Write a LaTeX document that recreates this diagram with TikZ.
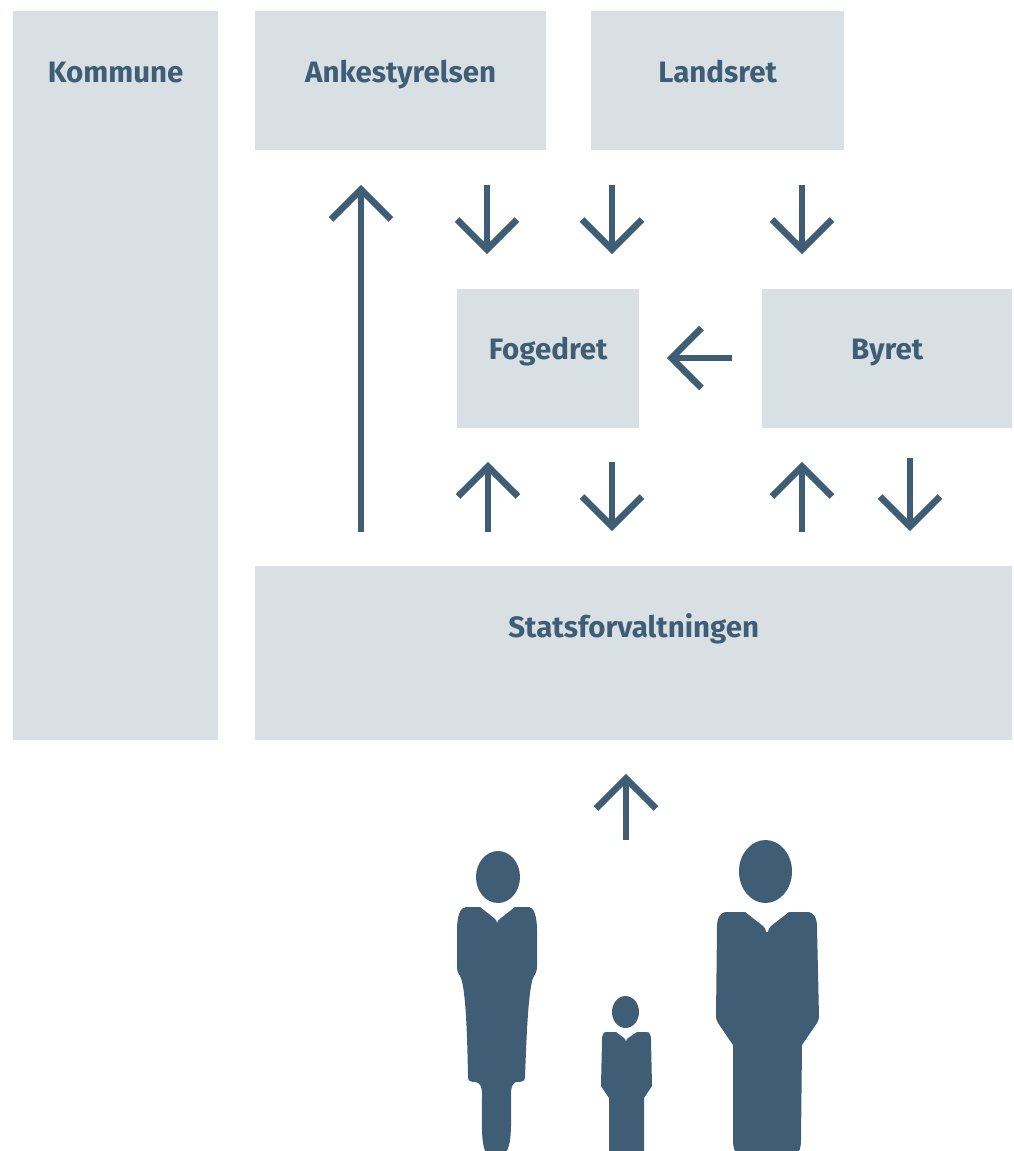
\documentclass[tikz,border=0pt]{standalone}
\usepackage{fontspec}
\setmainfont{Fira Sans}
\usetikzlibrary{calc}
\definecolor{ink}{HTML}{3F5E75}
\definecolor{panel}{HTML}{D9E0E4}
\tikzset{
  boxnode/.style={anchor=north west,fill=panel,text=ink,inner sep=0pt,align=center,
    font=\fontsize{29.5}{32}\selectfont\bfseries},
  flow/.style={draw=ink,line width=6.5pt,line cap=butt,line join=miter,miter limit=10},
  figure/.style={fill=ink,draw=none}
}
\begin{document}
\begin{tikzpicture}[x=1pt,y=-1pt]
\useasboundingbox (0,0) rectangle (1014,1151);
\node[boxnode,text width=205pt,text height=71pt,text depth=658pt] (kommune) at (13,11) {Kommune};
\node[boxnode,text width=291pt,text height=71pt,text depth=68pt] (anke) at (255,11) {Ankestyrelsen};
\node[boxnode,text width=253pt,text height=71pt,text depth=68pt] (landsret) at (591,11) {Landsret};
\node[boxnode,text width=182pt,text height=70pt,text depth=69pt] (foged) at (457,289) {Fogedret};
\node[boxnode,text width=250pt,text height=70pt,text depth=69pt] (byret) at (762,289) {Byret};
\node[boxnode,text width=757pt,text height=71pt,text depth=103pt] (stats) at (255,566) {Statsforvaltningen};

% connector ends
\coordinate (a1) at (361,532); \coordinate (a2) at (361,189.5);
\coordinate (b1) at (487,185); \coordinate (b2) at (487,249.5);
\coordinate (c1) at (612,185); \coordinate (c2) at (612,249.5);
\coordinate (d1) at (802,185); \coordinate (d2) at (802,249.5);
\coordinate (e1) at (732,358); \coordinate (e2) at (671.5,358);
\coordinate (f1) at (488,532); \coordinate (f2) at (488,466.5);
\coordinate (g1) at (612,462); \coordinate (g2) at (612,526.5);
\coordinate (h1) at (802,532); \coordinate (h2) at (802,466.5);
\coordinate (i1) at (910,458); \coordinate (i2) at (910,526.5);
\coordinate (j1) at (626,840); \coordinate (j2) at (626,778.5);
\foreach \p in {a,b,c,d,e,f,g,h,i,j} {
  \draw[flow] (\p1) -- (\p2);
  \draw[flow] ($(\p2)!42.4pt!45:(\p1)$) -- (\p2) -- ($(\p2)!42.4pt!-45:(\p1)$);
}

% woman
\fill[figure] (498,877) ellipse [x radius=22,y radius=26];
\fill[figure] (480,907) -- (494,918) .. controls (496,920) and (497,921) .. (497,923)
  .. controls (497,921) and (499,920) .. (501,918) -- (515,907) -- (529,907)
  .. controls (534,907) and (537,917) .. (537,930) -- (537,967)
  .. controls (537,972) and (535,974) .. (533,978)
  .. controls (529,990) and (527,1020) .. (525,1077)
  .. controls (525,1081) and (523,1082) .. (516,1082)
  .. controls (513,1083) and (511,1087) .. (511,1093)
  .. controls (511,1125) and (512,1140) .. (507,1151) -- (485,1151)
  .. controls (481,1140) and (482,1125) .. (482,1093)
  .. controls (482,1087) and (480,1083) .. (476,1082)
  .. controls (470,1082) and (468,1081) .. (468,1077)
  .. controls (467,1020) and (465,990) .. (461,978)
  .. controls (459,974) and (457,972) .. (457,967) -- (457,930)
  .. controls (457,917) and (460,907) .. (466,907) -- cycle;

% child
\fill[figure] (625.5,1012) ellipse [x radius=13.5,y radius=16];
\fill[figure] (616,1032) -- (624,1038) .. controls (625,1039) and (626,1040) .. (626,1042)
  .. controls (626,1040) and (627,1039) .. (628,1038) -- (637,1032) -- (647,1032)
  .. controls (650,1032) and (651,1036) .. (651,1040) -- (652,1086) -- (644,1098)
  -- (644,1151) -- (609,1151) -- (609,1098) -- (601,1086) -- (602,1040)
  .. controls (602,1036) and (603,1032) .. (606,1032) -- cycle;

% man
\fill[figure] (765.5,871.5) ellipse [x radius=26.5,y radius=31.5];
\fill[figure] (745,912) -- (763,926) .. controls (765,927) and (766,930) .. (766,932) -- (768,932)
  .. controls (768,930) and (769,928) .. (771,926) -- (789,912) -- (807,912)
  .. controls (814,912) and (817,918) .. (817,927) -- (819,1017)
  .. controls (819,1019) and (818,1021) .. (817,1023) -- (802,1045)
  -- (801,1140) .. controls (801,1146) and (800,1149) .. (799,1151) -- (735,1151)
  .. controls (734,1149) and (733,1146) .. (733,1140) -- (733,1045) -- (718,1023)
  .. controls (717,1021) and (716,1019) .. (716,1017) -- (717,927)
  .. controls (717,918) and (720,912) .. (727,912) -- cycle;
\end{tikzpicture}
\end{document}
